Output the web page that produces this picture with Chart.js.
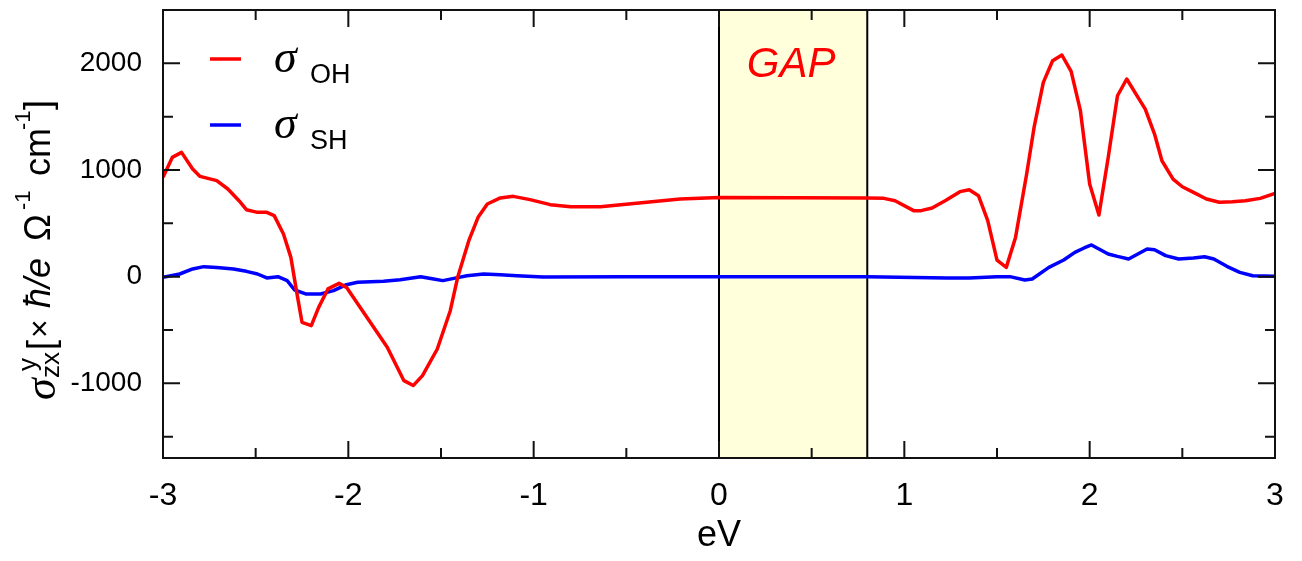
<!DOCTYPE html>
<html>
<head>
<meta charset="utf-8">
<script src="https://cdn.jsdelivr.net/npm/chart.js@4.4.1/dist/chart.umd.min.js"></script>
<style>
  html, body { margin: 0; padding: 0; background: #fff; }
  #wrap { width: 1302px; height: 561px; }
</style>
</head>
<body>
<div id="wrap"><canvas id="sigma" width="1302" height="561"></canvas></div>
<script>
// energy (eV) and conductivity values
const ohEnergy = [-3.00,-2.95,-2.90,-2.84,-2.80,-2.71,-2.65,-2.59,-2.55,-2.49,-2.44,-2.40,-2.35,-2.31,-2.28,-2.25,-2.20,-2.16,-2.11,-2.05,-2.01,-1.90,-1.79,-1.70,-1.65,-1.60,-1.52,-1.45,-1.41,-1.35,-1.30,-1.25,-1.18,-1.11,-1.02,-0.91,-0.80,-0.64,-0.39,-0.21,0.00,0.40,0.80,0.89,0.95,1.05,1.09,1.15,1.22,1.30,1.35,1.40,1.45,1.50,1.55,1.60,1.66,1.70,1.75,1.80,1.85,1.90,1.95,2.00,2.05,2.10,2.15,2.20,2.25,2.30,2.35,2.39,2.45,2.50,2.56,2.63,2.70,2.77,2.84,2.92,3.00];
const ohValues = [931,1118,1165,1009,940,900,822,712,628,603,603,572,400,181,-131,-428,-459,-288,-115,-63,-100,-381,-662,-975,-1021,-928,-678,-319,-6,337,556,681,738,753,722,675,656,656,697,728,743,740,738,734,712,619,619,644,712,797,815,759,525,156,87,368,962,1399,1821,2024,2078,1924,1556,869,578,1118,1696,1853,1712,1571,1337,1087,915,843,790,728,697,703,712,734,781];

const shEnergy = [-3.00,-2.91,-2.84,-2.78,-2.71,-2.62,-2.55,-2.49,-2.44,-2.38,-2.33,-2.29,-2.23,-2.15,-2.08,-2.01,-1.95,-1.81,-1.72,-1.61,-1.54,-1.49,-1.43,-1.36,-1.27,-1.18,-1.09,-0.95,-0.50,0.00,0.80,1.23,1.35,1.50,1.57,1.65,1.69,1.78,1.86,1.92,1.97,2.01,2.05,2.10,2.15,2.21,2.25,2.31,2.35,2.41,2.48,2.56,2.62,2.67,2.74,2.81,2.88,3.00];
const shValues = [-6,25,72,94,87,72,50,25,-12,0,-37,-125,-162,-162,-131,-75,-53,-44,-28,0,-22,-37,-16,9,25,19,9,-3,0,0,0,-12,-12,0,0,-31,-22,87,156,228,269,297,260,213,190,166,203,260,253,197,166,175,187,166,97,40,9,3];

// tick positions (majors get labels)
const xTickValues = [-3,-2.5,-2,-1.5,-1,-0.5,0,0.5,1,1.5,2,2.5,3];
const yTickValues = [-1500,-1000,-500,0,500,1000,1500,2000,2500];

const gapRange = [0, 0.8];
const xRange = [-3, 3];
const yRange = [-1700, 2500];

const toPoints = (xs, ys) => xs.map((v, i) => ({ x: v, y: ys[i] }));
const isMajorX = v => Number.isInteger(v);
const isMajorY = v => v % 1000 === 0;

// shaded band gap + label, drawn under the curves
const gapBand = {
  id: 'gapBand',
  beforeDatasetsDraw(chart) {
    const { ctx, chartArea: a, scales: { x } } = chart;
    const x0 = x.getPixelForValue(gapRange[0]);
    const x1 = x.getPixelForValue(gapRange[1]);
    ctx.save();
    ctx.fillStyle = '#ffffdc';
    ctx.fillRect(x0, a.top, x1 - x0, a.bottom - a.top);
    ctx.strokeStyle = '#000';
    ctx.lineWidth = 2;
    ctx.beginPath();
    ctx.moveTo(x0, a.top); ctx.lineTo(x0, a.bottom);
    ctx.moveTo(x1, a.top); ctx.lineTo(x1, a.bottom);
    ctx.stroke();
    ctx.fillStyle = '#ff0000';
    ctx.font = 'italic 42px "Liberation Sans", Arial, sans-serif';
    ctx.textAlign = 'center';
    ctx.textBaseline = 'alphabetic';
    ctx.fillText('GAP', (x0 + x1) / 2 - 2, a.top + 67);
    ctx.restore();
  }
};

// box frame with inward ticks on all four sides
const frameTicks = {
  id: 'frameTicks',
  afterDatasetsDraw(chart) {
    const { ctx, chartArea: a, scales: { x, y } } = chart;
    ctx.save();
    ctx.strokeStyle = '#111';
    ctx.lineWidth = 2;
    ctx.beginPath();
    x.ticks.forEach(t => {
      const len = isMajorX(t.value) ? 17 : 10;
      const px = x.getPixelForValue(t.value);
      ctx.moveTo(px, a.bottom); ctx.lineTo(px, a.bottom - len);
      ctx.moveTo(px, a.top); ctx.lineTo(px, a.top + len);
    });
    y.ticks.forEach(t => {
      const len = isMajorY(t.value) ? 17 : 10;
      const py = y.getPixelForValue(t.value);
      ctx.moveTo(a.left, py); ctx.lineTo(a.left + len, py);
      ctx.moveTo(a.right, py); ctx.lineTo(a.right - len, py);
    });
    ctx.stroke();
    ctx.strokeRect(a.left, a.top, a.right - a.left, a.bottom - a.top);
    ctx.restore();
  }
};

// legend with sigma + subscripts
const sigmaLegend = {
  id: 'sigmaLegend',
  afterDraw(chart) {
    const { ctx } = chart;
    const rows = [
      { color: chart.data.datasets[0].borderColor, sub: 'OH', y: 59 },
      { color: chart.data.datasets[1].borderColor, sub: 'SH', y: 125 }
    ];
    ctx.save();
    rows.forEach(r => {
      ctx.strokeStyle = r.color;
      ctx.lineWidth = 3.5;
      ctx.beginPath();
      ctx.moveTo(210, r.y); ctx.lineTo(241, r.y);
      ctx.stroke();
      ctx.fillStyle = '#000';
      ctx.textAlign = 'left';
      ctx.textBaseline = 'alphabetic';
      ctx.font = 'italic 46px "Liberation Serif", serif';
      ctx.fillText('σ', 274, r.y + 13);
      ctx.font = '27px "Liberation Sans", Arial, sans-serif';
      ctx.fillText(r.sub, 310, r.y + 24);
    });
    ctx.restore();
  }
};

// rotated y-axis title with super/subscripts
const yTitle = {
  id: 'yTitle',
  afterDraw(chart) {
    const { ctx } = chart;
    const sans = s => s + 'px "Liberation Sans", Arial, sans-serif';
    const parts = [
      { t: 'σ', f: 'italic 44px "Liberation Serif", serif', at: -2, dy: 5 },
      { t: 'y', f: sans(26), at: 27, dy: -14 },
      { t: 'zx', f: sans(26), at: 20, dy: 9 },
      { t: '[', f: sans(36), at: 48, dy: 3 },
      { t: '×', f: sans(32), at: 60, dy: 0 },
      { t: 'ħ/e', f: 'italic ' + sans(36), at: 90, dy: 0 },
      { t: 'Ω', f: sans(36), at: 157, dy: 0 },
      { t: '-1', f: sans(22), at: 188, dy: -20 },
      { t: 'cm', f: sans(36), at: 222, dy: 0 },
      { t: '-1', f: sans(22), at: 268, dy: -20 },
      { t: ']', f: sans(36), at: 288, dy: 0 }
    ];
    ctx.save();
    ctx.translate(50, 398);
    ctx.rotate(-Math.PI / 2);
    ctx.fillStyle = '#000';
    ctx.textAlign = 'left';
    ctx.textBaseline = 'alphabetic';
    parts.forEach(p => {
      ctx.font = p.f;
      ctx.fillText(p.t, p.at, p.dy);
    });
    ctx.restore();
  }
};

const ctx = document.getElementById('sigma');
new Chart(ctx, {
  type: 'scatter',
  data: {
    datasets: [
      {
        label: 'σ OH',
        data: toPoints(ohEnergy, ohValues),
        showLine: true,
        borderColor: '#ff0000',
        borderWidth: 3.5,
        borderJoinStyle: 'round',
        pointRadius: 0,
        tension: 0
      },
      {
        label: 'σ SH',
        data: toPoints(shEnergy, shValues),
        showLine: true,
        borderColor: '#0000ff',
        borderWidth: 3.5,
        borderJoinStyle: 'round',
        pointRadius: 0,
        tension: 0
      }
    ]
  },
  options: {
    responsive: false,
    animation: false,
    layout: { padding: { left: 0, top: 10, right: 27, bottom: 0 } },
    plugins: {
      legend: { display: false },
      tooltip: { enabled: false }
    },
    scales: {
      x: {
        type: 'linear',
        min: xRange[0],
        max: xRange[1],
        grid: { display: false, drawTicks: false },
        border: { display: false },
        afterBuildTicks: axis => { axis.ticks = xTickValues.map(value => ({ value })); },
        ticks: {
          autoSkip: false,
          maxRotation: 0,
          padding: 19,
          color: '#000',
          font: { family: '"Liberation Sans", Arial, sans-serif', size: 32 },
          callback: v => isMajorX(v) ? String(v) : ''
        },
        title: {
          display: true,
          text: 'eV',
          color: '#000',
          font: { family: '"Liberation Sans", Arial, sans-serif', size: 36 },
          padding: { top: 0, bottom: 3 }
        },
        afterFit: axis => {
          axis.height = 103;
          axis.paddingLeft = 0;
          axis.paddingRight = 0;
        }
      },
      y: {
        min: yRange[0],
        max: yRange[1],
        grid: { display: false, drawTicks: false },
        border: { display: false },
        afterBuildTicks: axis => { axis.ticks = yTickValues.map(value => ({ value })); },
        ticks: {
          autoSkip: false,
          padding: 21,
          color: '#000',
          font: { family: '"Liberation Sans", Arial, sans-serif', size: 28 },
          callback: v => isMajorY(v) && v < 2500 ? String(v) : ''
        },
        afterFit: axis => {
          axis.width = 163;
          axis.paddingTop = 0;
          axis.paddingBottom = 0;
        }
      }
    }
  },
  plugins: [gapBand, frameTicks, sigmaLegend, yTitle]
});
</script>
</body>
</html>
